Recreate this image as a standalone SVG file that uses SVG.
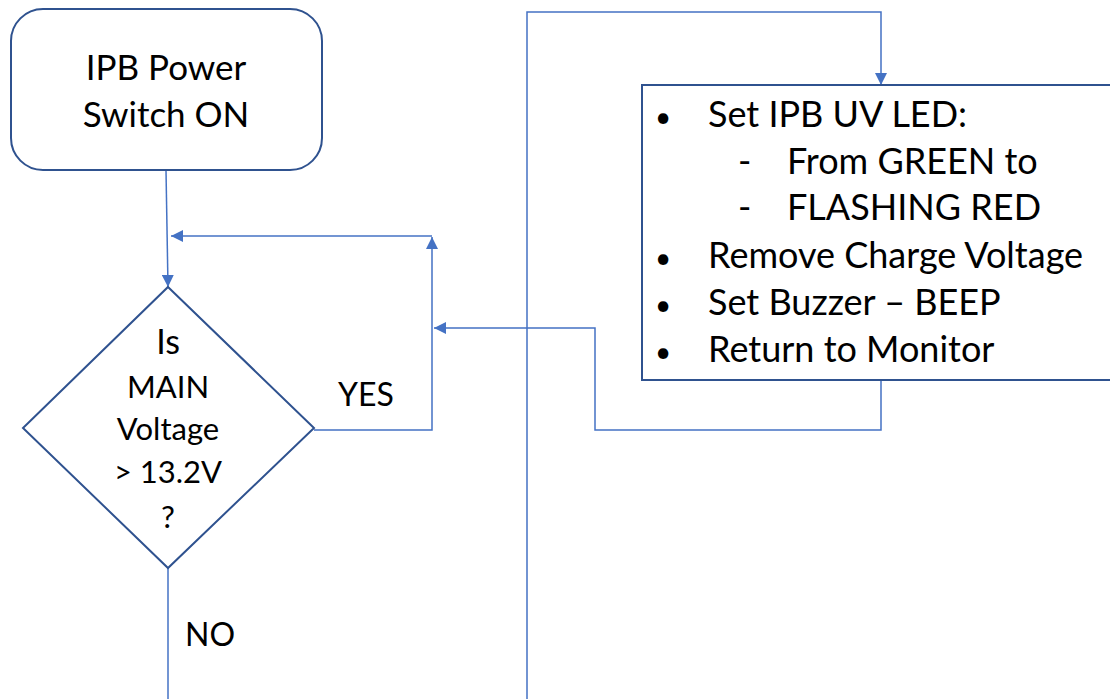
<svg xmlns="http://www.w3.org/2000/svg" width="1110" height="699" viewBox="0 0 1110 699">
<style>
.node{fill:#ffffff;stroke:#2F528F;stroke-width:2}
.conn{fill:none;stroke:#4472C4;stroke-width:1.5}
.t{font-family:Lato,"Open Sans","Liberation Sans",sans-serif;fill:#000000;font-size:36px}
.c{text-anchor:middle}
.d{font-size:31px}
.b{font-size:28px;text-anchor:middle}
.l{font-size:32px}
</style>
<defs>
<marker id="ah" viewBox="0 0 12 12" refX="12" refY="6" markerWidth="12" markerHeight="12" markerUnits="userSpaceOnUse" orient="auto">
<path d="M0,0 L12,6 L0,12 Z" fill="#4472C4"/>
</marker>
</defs>
<rect width="1110" height="699" fill="#ffffff"/>
<g id="connectors">
<path class="conn" d="M166,170 L168,287" marker-end="url(#ah)"/>
<path class="conn" d="M314,430 L432,430 L432,237" marker-end="url(#ah)"/>
<path class="conn" d="M432,236 L171,236" marker-end="url(#ah)"/>
<path class="conn" d="M881,380 L881,430 L595,430 L595,328 L434,328" marker-end="url(#ah)"/>
<path class="conn" d="M527,699 L527,12 L881,12 L881,85" marker-end="url(#ah)"/>
<path class="conn" d="M168,568 L168,699"/>
</g>
<g id="start">
<rect class="node" x="11" y="9" width="311" height="161" rx="32"/>
<text class="t c" x="166" y="80" style="font-size:35px">IPB Power</text>
<text class="t c" x="166" y="127" style="font-size:35px">Switch ON</text>
</g>
<g id="decision">
<path class="node" d="M168,287 L314,428 L168,568 L23,428 Z"/>
<text class="t c" x="168" y="354" style="font-size:34px">Is</text>
<text class="t c d" x="168" y="398">MAIN</text>
<text class="t c d" x="168" y="440">Voltage</text>
<text class="t c d" x="168" y="483">&gt; 13.2V</text>
<text class="t c d" x="168" y="528">?</text>
</g>
<g id="action">
<rect class="node" x="642" y="85" width="470" height="295"/>
<text class="t b" x="663" y="127">•</text>
<text class="t" x="708" y="127">Set IPB UV LED:</text>
<text class="t" x="738" y="174">-</text>
<text class="t" x="787" y="174">From GREEN to</text>
<text class="t" x="738" y="220">-</text>
<text class="t" x="787" y="220">FLASHING RED</text>
<text class="t b" x="663" y="268">•</text>
<text class="t" x="708" y="268">Remove Charge Voltage</text>
<text class="t b" x="663" y="315">•</text>
<text class="t" x="708" y="315">Set Buzzer – BEEP</text>
<text class="t b" x="663" y="362">•</text>
<text class="t" x="708" y="362">Return to Monitor</text>
</g>
<g id="labels">
<text class="t l" x="338" y="406">YES</text>
<text class="t l" x="185" y="646">NO</text>
</g>
</svg>
